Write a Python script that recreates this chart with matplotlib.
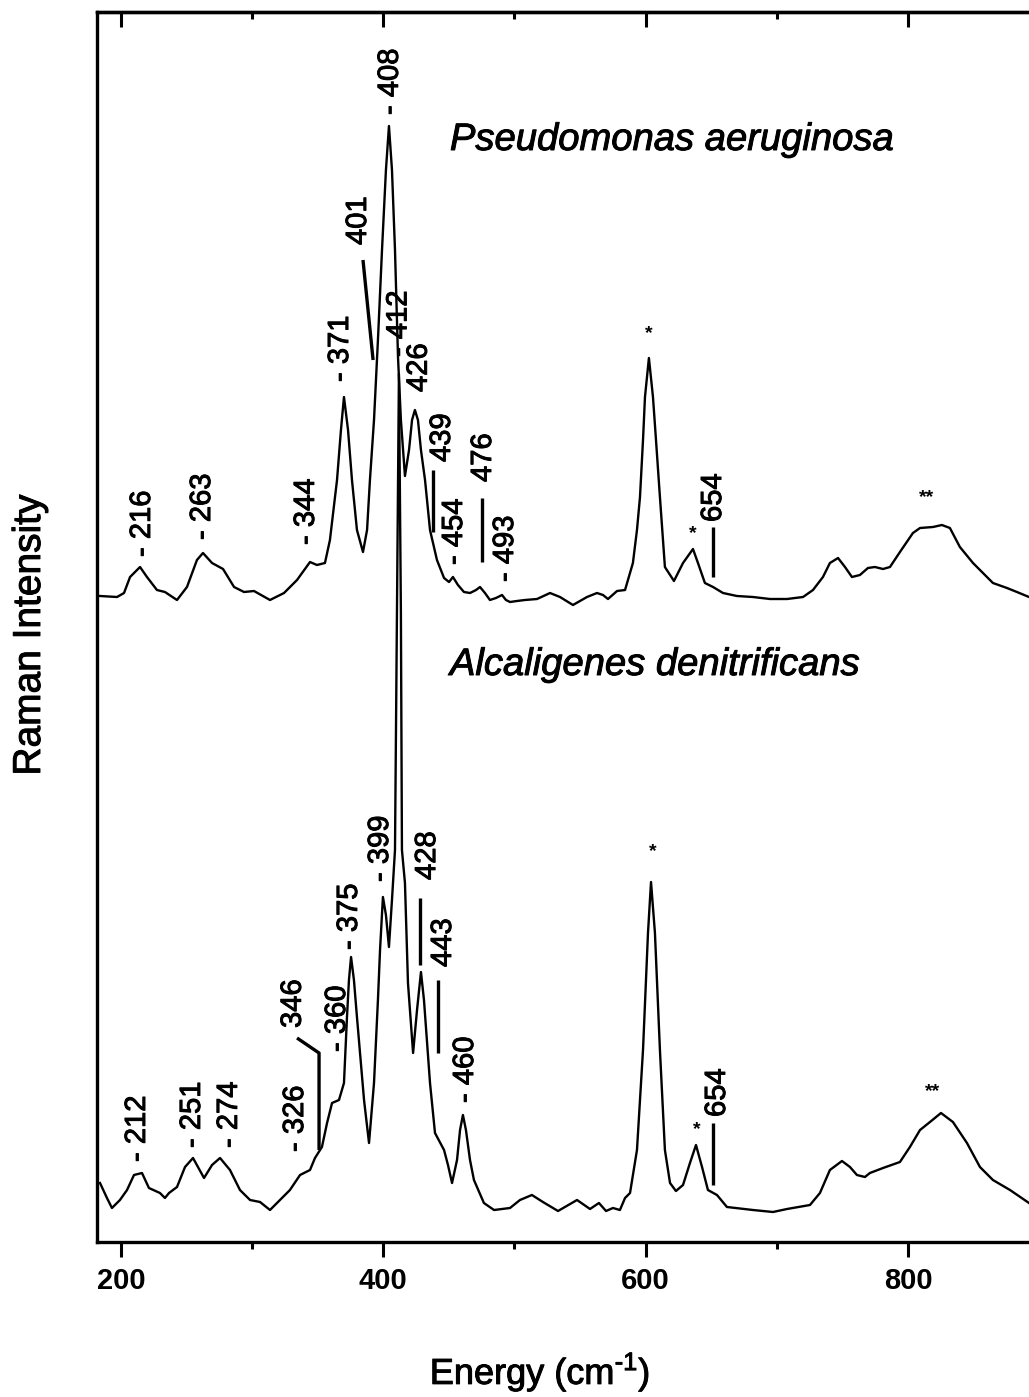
import numpy as np
import matplotlib
matplotlib.use("Agg")
import matplotlib.pyplot as plt
import matplotlib.patheffects as pe

plt.rcParams['font.family'] = ['Liberation Sans', 'DejaVu Sans']
plt.rcParams['mathtext.fontset'] = 'custom'
plt.rcParams['mathtext.rm'] = 'Liberation Sans'

# Raman shift (cm-1) and intensity (a.u.)
energy_pa = [184.0, 197.0, 202.3, 206.9, 214.5, 219.8, 227.4, 233.5, 242.7, 250.3,
             257.9, 262.5, 269.4, 277.8, 286.2, 293.8, 301.4, 313.6, 324.3, 334.2,
             344.1, 349.4, 355.5, 359.3, 364.7, 367.7, 370.0, 373.1, 376.1, 379.9,
             384.5, 387.6, 389.8, 392.9, 395.9, 399.0, 402.0, 404.3, 406.6, 408.9,
             411.2, 413.4, 416.5, 419.6, 421.9, 424.1, 426.4, 428.7, 431.8, 435.6,
             440.9, 446.3, 450.1, 453.1, 456.9, 461.5, 466.1, 470.7, 473.7, 477.5,
             481.3, 485.9, 490.5, 493.5, 496.6, 501.9, 508.0, 517.2, 527.1, 534.7,
             544.6, 555.3, 562.9, 567.5, 571.3, 578.2, 584.3, 590.3, 593.4, 595.7,
             598.0, 599.5, 602.5, 605.6, 607.9, 610.9, 614.7, 621.6, 628.5, 636.1,
             639.9, 645.2, 651.4, 659.0, 669.6, 681.8, 694.8, 707.8, 720.0, 727.6,
             735.2, 740.5, 746.7, 752.0, 757.3, 763.4, 769.5, 774.8, 781.0, 786.3,
             793.9, 803.8, 809.2, 819.1, 825.9, 832.0, 839.6, 849.6, 864.8, 875.5,
             883.1, 892.3]
intensity_pa = [46, 45, 49, 65, 75, 65, 52, 50, 42, 55,
                82, 89, 79, 73, 55, 50, 51, 42, 49, 62,
                80, 77, 79, 102, 162, 212, 245, 212, 162, 112,
                90, 112, 162, 222, 302, 392, 472, 516, 472, 392,
                285, 222, 166, 192, 222, 232, 222, 192, 162, 112,
                82, 64, 60, 65, 57, 50, 49, 52, 55, 49,
                42, 44, 47, 42, 40, 41, 42, 43, 49, 45,
                37, 45, 49, 47, 43, 51, 52, 79, 112, 145,
                202, 245, 284, 245, 202, 145, 75, 61, 79, 93,
                79, 59, 55, 49, 46, 45, 43, 43, 45, 52,
                65, 79, 84, 75, 65, 67, 74, 75, 73, 75,
                90, 109, 114, 115, 117, 114, 95, 79, 59, 54,
                50, 45]

energy_ad = [184.0, 189.3, 193.1, 199.2, 204.6, 209.9, 216.0, 221.3, 229.7, 233.5,
             236.6, 242.7, 248.8, 254.9, 263.3, 269.4, 275.5, 283.1, 290.7, 298.4,
             306.0, 313.6, 321.2, 328.8, 336.5, 344.1, 347.9, 353.2, 357.1, 360.9,
             366.2, 370.0, 372.3, 373.8, 375.4, 377.6, 379.9, 385.3, 389.1, 392.9,
             395.9, 397.5, 399.7, 402.0, 404.3, 406.6, 408.9, 410.4, 411.9, 413.4,
             414.2, 416.5, 418.8, 422.7, 425.7, 428.7, 431.0, 435.6, 439.4, 446.3,
             449.3, 452.4, 456.2, 458.5, 460.7, 463.0, 466.1, 469.1, 476.7, 484.4,
             496.6, 504.2, 513.3, 521.7, 533.2, 547.7, 557.6, 564.4, 569.8, 575.1,
             580.4, 584.3, 588.1, 593.4, 598.0, 601.8, 604.1, 607.1, 610.9, 614.7,
             618.6, 623.1, 628.5, 633.8, 638.4, 643.0, 647.5, 654.4, 662.0, 681.8,
             697.1, 707.8, 725.3, 732.9, 740.5, 749.7, 755.8, 761.1, 767.2, 771.0,
             781.0, 793.9, 801.5, 809.2, 816.8, 825.2, 834.3, 845.0, 854.9, 864.8,
             877.8, 892.3]
intensity_ad = [59, 44, 34, 42, 52, 67, 69, 54, 49, 44,
                49, 55, 75, 84, 64, 77, 84, 72, 52, 42,
                40, 32, 42, 52, 67, 72, 84, 95, 119, 139,
                142, 159, 225, 262, 285, 262, 225, 142, 99, 159,
                242, 292, 345, 327, 295, 342, 392, 630, 868, 630,
                392, 359, 259, 189, 232, 270, 242, 159, 109, 92,
                77, 59, 82, 112, 127, 112, 82, 62, 39, 32,
                34, 42, 47, 40, 31, 42, 33, 39, 31, 34,
                32, 44, 49, 92, 192, 309, 360, 309, 192, 92,
                59, 51, 57, 79, 97, 75, 52, 47, 35, 32,
                30, 33, 37, 49, 72, 81, 75, 67, 65, 69,
                74, 80, 95, 112, 120, 129, 120, 99, 75, 62,
                52, 39]

offset_pa = 600

# peak labels with a short dash: text, energy, bottom of label
dash_labels = [("216", 216.0, 685), ("263", 261.8, 702), ("344", 341.0, 697),
               ("371", 367.0, 860), ("408", 405.0, 1127), ("454", 453.9, 677),
               ("493", 492.8, 660),
               ("212", 212.2, 80), ("251", 254.1, 94), ("274", 282.3, 94),
               ("326", 332.7, 90), ("360", 364.7, 190), ("375", 373.8, 292),
               ("399", 397.5, 360), ("412", 411.5, 885), ("460", 462.3, 139)]

# peak labels with a bar: text, text energy, text bottom, bar x list, bar y list
bar_labels = [("401", 380.7, 997, [384.5, 392.2], [982, 882]),
              ("439", 444.7, 780, [437.9, 437.9], [772, 710]),
              ("476", 476.0, 760, [475.2, 475.2], [744, 680]),
              ("654", 651.4, 720, [651.4, 651.4], [715, 665]),
              ("346", 331.0, 214, [334.2, 351.0, 351.0], [204, 189, 92]),
              ("428", 433.4, 362, [428.0, 428.0], [344, 277]),
              ("443", 445.5, 275, [441.7, 441.7], [262, 189]),
              ("654", 654.4, 125, [651.4, 651.4], [119, 57])]

plain_labels = [("426", 427.0, 850)]

star_marks = [("*", 602.5, 908), ("*", 636.1, 708), ("**", 814.5, 744),
              ("*", 605.6, 390), ("*", 639.2, 112), ("**", 819.1, 150)]

W, H = 1029, 1397
fig = plt.figure(figsize=(W / 100, H / 100), dpi=100)
ax = fig.add_axes([97 / W, 1 - 1242 / H, 1 - 97 / W, 1230 / H])

ax.plot(energy_pa, np.array(intensity_pa) + offset_pa, color='black', lw=1.7,
        solid_joinstyle='round')
ax.plot(energy_ad, intensity_ad, color='black', lw=1.7, solid_joinstyle='round')

ax.set_xlim(181.7, 892.3)
ax.set_ylim(0, 1230)

# scanned print looks a little heavier than plain regular text
heavy = [pe.withStroke(linewidth=0.7, foreground='black')]

for txt, e, h in dash_labels:
    ax.text(e, h, "- " + txt, rotation=90, ha='center', va='bottom', fontsize=21,
            path_effects=heavy)
for txt, e, h, bx, by in bar_labels:
    ax.plot(bx, by, color='black', lw=2.4, solid_capstyle='butt')
    ax.text(e, h, txt, rotation=90, ha='center', va='bottom', fontsize=21,
            path_effects=heavy)
for txt, e, h in plain_labels:
    ax.text(e, h, txt, rotation=90, ha='center', va='bottom', fontsize=21,
            path_effects=heavy)
for txt, e, h in star_marks:
    ax.text(e, h, txt, ha='center', va='center', fontsize=14, fontweight='bold')

ax.text(450.8, 1102, "Pseudomonas aeruginosa", style='italic', fontsize=27.5,
        ha='left', va='center', path_effects=heavy)
ax.text(450.8, 577, "Alcaligenes denitrificans", style='italic', fontsize=27.5,
        ha='left', va='center', path_effects=heavy)

for side in ['left', 'bottom', 'top']:
    ax.spines[side].set_linewidth(2.4)
ax.spines['right'].set_visible(False)

ax.set_yticks([])
ax.set_xticks([200, 400, 600, 800])
ax.set_xticks([300, 500, 700], minor=True)
ax.tick_params(axis='x', which='major', direction='out', length=11, width=2.2,
               pad=7, labelsize=21)
ax.tick_params(axis='x', which='minor', direction='out', length=5, width=2.2)
for lab in ax.get_xticklabels():
    lab.set_fontweight('bold')

top = ax.secondary_xaxis('top')
top.set_xticks([200, 400, 600, 800])
top.set_xticks([300, 500, 700], minor=True)
top.tick_params(axis='x', which='major', direction='in', length=11, width=2.2,
                labeltop=False)
top.tick_params(axis='x', which='minor', direction='in', length=5, width=2.2)
top.spines['top'].set_linewidth(2.4)

fig.text(30 / W, 1 - 635 / H, "Raman Intensity", rotation=90, fontsize=28,
         ha='center', va='center', path_effects=heavy)
fig.text(540 / W, 1 - 1372 / H, r"Energy (cm$^{\text{-}1}$)", fontsize=26,
         ha='center', va='center', path_effects=heavy)

fig.savefig("out.png", dpi=100)
